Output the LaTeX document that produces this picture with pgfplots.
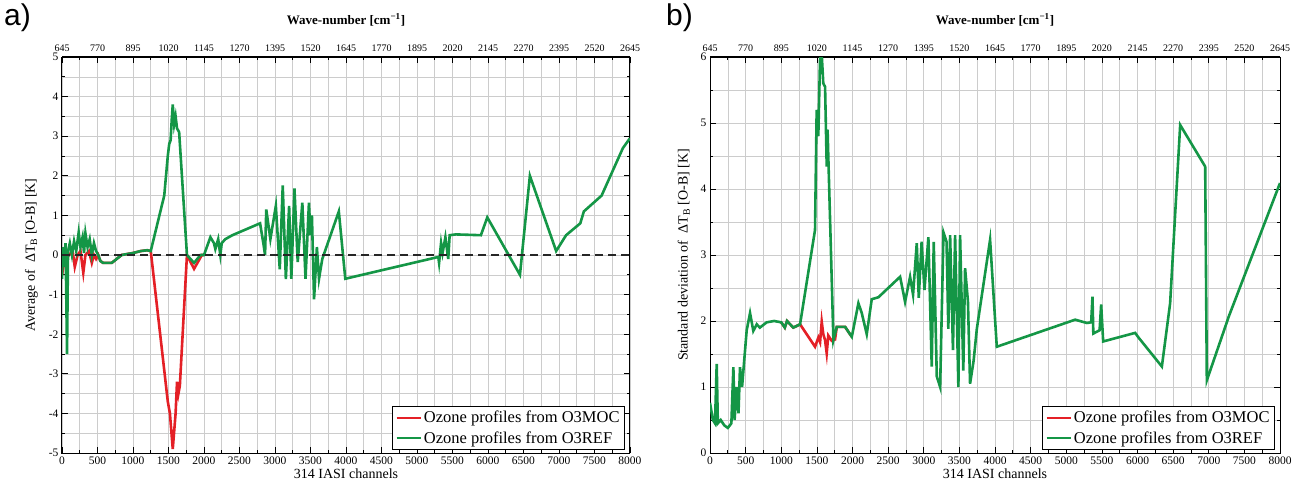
\documentclass[border=0pt]{standalone}
\usepackage{fontspec}
\setmainfont{Liberation Serif}
\newfontfamily\panelfont{Liberation Sans}
\usepackage{pgfplots}
\pgfplotsset{compat=1.18}
\definecolor{ozgreen}{RGB}{20,150,70}
\definecolor{ozred}{RGB}{228,32,38}

\pgfplotsset{
  panel/.style={
    scale only axis, height=396pt,
    xmin=0, xmax=8000, xtick={0,500,...,8000}, minor x tick num=1,
    grid=both,
    major grid style={black!20, line width=0.6pt},
    minor grid style={black!20, line width=0.6pt},
    tick align=inside, major tick length=6pt, minor tick length=3pt,
    tick style={black, line width=0.7pt},
    axis line style={black, line width=1pt},
    ticklabel style={font=\fontsize{11.5}{13}\selectfont},
    /pgf/number format/assume math mode=true,
    /pgf/number format/1000 sep={},
    xlabel={314 IASI channels},
    xlabel style={font=\fontsize{14}{16}\selectfont, yshift=2pt},
    ylabel style={font=\fontsize{14}{16}\selectfont, yshift=4pt},
    legend style={at={(1,0)}, anchor=south east, xshift=-5pt, yshift=3pt,
      font=\fontsize{16.5}{17}\selectfont, draw=black, line width=0.9pt,
      inner sep=3pt, row sep=3pt, fill=white},
    legend cell align=left,
    legend image code/.code={\draw[#1, line width=2.6pt] (0pt,0pt) -- (24pt,0pt);},
  },
  topaxis/.style={
    scale only axis, height=396pt,
    xmin=0, xmax=8000, ymin=0, ymax=1,
    axis x line*=top, axis y line=none,
    xtick={0,500,...,8000}, minor x tick num=1,
    xticklabels={645,770,895,1020,1145,1270,1395,1520,1645,1770,1895,2020,2145,2270,2395,2520,2645},
    tick align=inside, major tick length=6pt, minor tick length=3pt,
    tick style={black, line width=0.7pt},
    axis line style={black, line width=1pt},
    ticklabel style={font=\fontsize{10}{12}\selectfont, yshift=2pt},
    xlabel={\textbf{Wave-number [cm\textsuperscript{−1}]}},
    xlabel style={font=\fontsize{13}{15}\selectfont, yshift=12pt},
  },
}

\begin{document}
\begin{tikzpicture}
\useasboundingbox (0,0) rectangle (1304pt,493pt);

% ---------------- panel a ----------------
\begin{axis}[panel, width=568pt, at={(62pt,40pt)}, anchor=south west,
  ymin=-5, ymax=5, ytick={-5,...,5}, minor y tick num=1,
  ylabel={Average of \ ΔT\textsubscript{B} [O-B] [K]}]
\addplot[ozred, line width=2.6pt] coordinates {
(0,-0.5) (30,-0.2) (60,0.1) (100,0.0) (150,0.1) (180,-0.3) (220,0.0) (260,0.1)
(300,-0.45) (330,0.0) (380,0.1) (420,-0.2) (450,0.0) (480,-0.1) (510,0.0)
(540,-0.15) (580,-0.2) (640,-0.2) (700,-0.2) (840,0.0) (1000,0.05) (1110,0.1)
(1200,0.12) (1250,0.1) (1490,-3.7) (1520,-4.0) (1560,-4.9) (1600,-4.0)
(1620,-3.2) (1640,-3.5) (1660,-3.3) (1760,0.0) (1860,-0.35) (1970,0.0) (2000,0.0)
};
\addlegendentry{Ozone profiles from O3MOC}
\addplot[ozgreen, line width=2.6pt] coordinates {
(0,-0.6) (10,0.2) (30,-0.3) (50,0.3) (71,-2.5) (85,0.1) (110,0.3) (140,0.0)
(170,0.35) (200,0.1) (235,0.57) (260,0.2) (290,0.45) (310,0.05) (330,0.55)
(360,0.2) (390,0.4) (420,0.0) (450,0.3) (480,0.1) (510,0.0) (540,-0.15)
(580,-0.2) (640,-0.2) (700,-0.2) (840,0.0) (1000,0.05) (1110,0.1) (1200,0.12)
(1250,0.1) (1440,1.5) (1490,2.5) (1510,2.8) (1530,2.9) (1545,3.4) (1560,3.8)
(1580,3.3) (1600,3.5) (1620,3.2) (1650,3.1) (1760,0.0) (1860,-0.2) (1950,0.0)
(2000,0.0) (2060,0.3) (2090,0.45) (2140,0.3) (2160,0.15) (2200,0.4) (2230,0.0)
(2250,0.3) (2300,0.4) (2400,0.5) (2790,0.8) (2840,0.25) (2860,0.0) (2877,1.15)
(2935,0.4) (3012,1.24) (3067,-0.36) (3109,1.76) (3153,-0.61) (3199,1.24)
(3230,-0.6) (3274,1.68) (3320,-0.18) (3385,1.32) (3430,-0.6) (3478,1.32)
(3500,0.5) (3520,1.0) (3550,-1.12) (3590,0.2) (3620,-0.6) (3666,-0.1)
(3899,1.1) (3990,-0.6) (5300,-0.05) (5311,-0.2) (5339,0.3) (5360,0.05)
(5400,0.45) (5440,-0.1) (5460,0.5) (5548,0.52) (5900,0.5) (5990,0.95)
(6450,-0.5) (6590,2.0) (6960,0.1) (7100,0.5) (7300,0.8) (7350,1.1)
(7600,1.5) (7900,2.7) (8000,2.95)
};
\addlegendentry{Ozone profiles from O3REF}
\addplot[black!85, line width=1.8pt, dash pattern=on 8pt off 5pt, forget plot]
  coordinates {(0,0) (8000,0)};
\end{axis}
\begin{axis}[topaxis, width=568pt, at={(62pt,40pt)}, anchor=south west]
\end{axis}

% ---------------- panel b ----------------
\begin{axis}[panel, width=570pt, at={(710pt,40pt)}, anchor=south west,
  ymin=0, ymax=6, ytick={0,...,6}, minor y tick num=1,
  ylabel={Standard deviation of \ ΔT\textsubscript{B} [O-B] [K]}]
\addplot[ozred, line width=2.6pt] coordinates {
(1000,1.98) (1050,1.9) (1080,2.0) (1170,1.9) (1264,1.95) (1474,1.61)
(1521,1.75) (1545,1.68) (1568,1.99) (1590,1.8) (1615,1.71) (1638,1.51)
(1660,1.78) (1708,1.7) (1755,1.72) (1779,1.91) (1897,1.91) (1990,1.76)
};
\addlegendentry{Ozone profiles from O3MOC}
\addplot[ozgreen, line width=2.6pt] coordinates {
(0,0.76) (40,0.5) (70,0.45) (94,1.35) (110,0.45) (150,0.5) (200,0.42)
(250,0.38) (300,0.45) (328,1.3) (345,0.5) (375,1.0) (400,0.6) (421,1.3)
(450,1.0) (480,1.4) (515,1.86) (562,2.12) (608,1.85) (656,1.95) (700,1.9)
(796,1.98) (900,2.0) (1000,1.98) (1050,1.9) (1080,2.0) (1170,1.9) (1264,1.95)
(1474,3.38) (1497,5.2) (1520,4.8) (1544,5.95) (1560,6.2) (1590,5.6)
(1615,5.55) (1638,4.34) (1650,4.9) (1732,1.71) (1779,1.91) (1897,1.91)
(1990,1.76) (2083,2.27) (2130,2.12) (2200,1.8) (2270,2.33) (2364,2.36)
(2668,2.67) (2738,2.29) (2808,2.67) (2850,2.4) (2902,3.18) (2930,2.35)
(2970,3.2) (3010,2.47) (3065,3.27) (3112,1.31) (3140,3.2) (3183,1.16)
(3230,1.0) (3277,3.34) (3320,3.2) (3345,1.88) (3370,3.3) (3410,1.56)
(3440,3.3) (3486,1.0) (3510,3.3) (3555,1.25) (3580,2.8) (3620,2.3)
(3650,1.05) (3700,1.4) (3745,1.88) (3931,3.23) (4025,1.61) (5125,2.02)
(5289,1.97) (5350,1.98) (5368,2.37) (5380,1.81) (5468,1.86) (5490,2.25)
(5518,1.69) (5967,1.82) (6014,1.75) (6342,1.31) (6458,2.27) (6599,4.97)
(6950,4.34) (6973,1.1) (7231,1.91) (7278,2.06) (8000,4.09)
};
\addlegendentry{Ozone profiles from O3REF}
\end{axis}
\begin{axis}[topaxis, width=570pt, at={(710pt,40pt)}, anchor=south west]
\end{axis}

\node[anchor=north west, font=\panelfont\fontsize{30}{30}\selectfont, inner sep=0pt]
  at (4pt,489pt) {a)};
\node[anchor=north west, font=\panelfont\fontsize{30}{30}\selectfont, inner sep=0pt]
  at (666pt,489pt) {b)};
\end{tikzpicture}
\end{document}
